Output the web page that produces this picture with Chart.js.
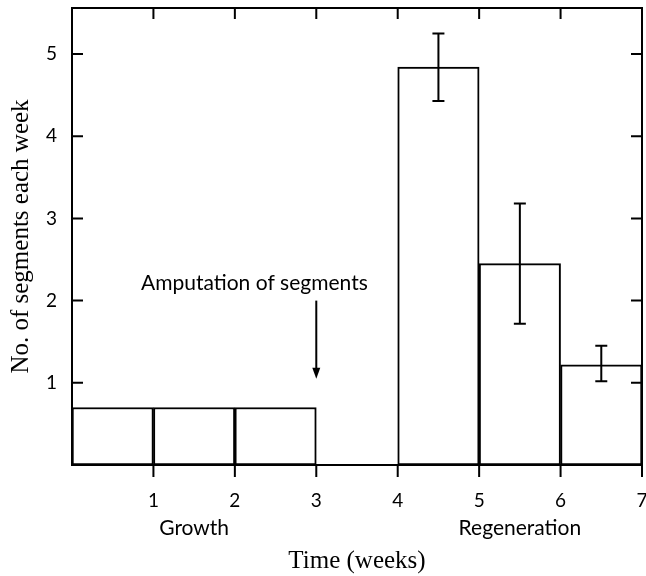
<!DOCTYPE html>
<html>
<head>
<meta charset="utf-8">
<script src="https://cdn.jsdelivr.net/npm/chart.js@4/dist/chart.umd.min.js"></script>
<style>
  html,body{margin:0;padding:0;background:#fff;}
  #wrap{width:646px;height:576px;}
</style>
</head>
<body>
<div id="wrap"><canvas id="c" width="646" height="576"></canvas></div>
<script>
// week midpoints (bars span one week each)
const weekMid  = [0.5, 1.5, 2.5, 4.5, 5.5, 6.5];
const segments = [0.70, 0.70, 0.70, 4.84, 2.45, 1.22];
const errLow   = [null, null, null, 4.43, 1.72, 1.02];
const errHigh  = [null, null, null, 5.25, 3.18, 1.45];
const xTicks = [1, 2, 3, 4, 5, 6, 7];
const yTicks = [1, 2, 3, 4, 5];
const phaseLabels = ['Growth', 'Regeneration'];
const phaseMid = [1.5, 5.5];
const amputationWeek = 3;
const amputationText = 'Amputation of segments';

const sans = 'Lato, "Open Sans", sans-serif';
const serif = '"Liberation Serif", "DejaVu Serif", serif';
const ink = '#000';

const frame = {
  id: 'frame',
  afterDraw(chart){
    const {ctx, chartArea:a, scales:{x, y}} = chart;
    ctx.save();
    ctx.strokeStyle = ink; ctx.lineWidth = 2;
    ctx.strokeRect(a.left, a.top, a.right - a.left, a.bottom - a.top);
    ctx.beginPath();
    yTicks.forEach(v => {
      const py = y.getPixelForValue(v);
      ctx.moveTo(a.left, py); ctx.lineTo(a.left + 11, py);
      ctx.moveTo(a.right, py); ctx.lineTo(a.right - 11, py);
    });
    xTicks.forEach(v => {
      const px = x.getPixelForValue(v);
      ctx.moveTo(px, a.top); ctx.lineTo(px, a.top + 11);
      ctx.moveTo(px, a.bottom); ctx.lineTo(px, a.bottom + 12);
    });
    ctx.stroke();
    // error bars
    ctx.beginPath();
    weekMid.forEach((m, i) => {
      if(errLow[i] == null) return;
      const px = x.getPixelForValue(m);
      const lo = y.getPixelForValue(errLow[i]), hi = y.getPixelForValue(errHigh[i]);
      ctx.moveTo(px, lo); ctx.lineTo(px, hi);
      ctx.moveTo(px - 6, lo); ctx.lineTo(px + 6, lo);
      ctx.moveTo(px - 6, hi); ctx.lineTo(px + 6, hi);
    });
    ctx.stroke();
    // amputation arrow
    const ax = x.getPixelForValue(amputationWeek);
    const aTop = y.getPixelForValue(2.0), aTip = y.getPixelForValue(1.05);
    ctx.beginPath(); ctx.moveTo(ax, aTop); ctx.lineTo(ax, aTip - 6); ctx.stroke();
    ctx.fillStyle = ink;
    ctx.beginPath(); ctx.moveTo(ax, aTip); ctx.lineTo(ax - 4, aTip - 11); ctx.lineTo(ax + 4, aTip - 11); ctx.closePath(); ctx.fill();
    ctx.font = '21px ' + sans;
    ctx.textAlign = 'center'; ctx.textBaseline = 'alphabetic';
    ctx.fillText(amputationText, x.getPixelForValue(2.24), y.getPixelForValue(2.13));
    // phase labels under the axis
    ctx.textBaseline = 'middle';
    phaseLabels.forEach((t, i) => ctx.fillText(t, x.getPixelForValue(phaseMid[i]), a.bottom + 63));
    ctx.restore();
  }
};

new Chart(document.getElementById('c'), {
  type: 'bar',
  data: {
    datasets: [{
      data: weekMid.map((m, i) => ({x: m, y: segments[i]})),
      backgroundColor: '#fff',
      borderColor: ink,
      borderWidth: 2,
      borderSkipped: false,
      barPercentage: 1,
      categoryPercentage: 1
    }]
  },
  options: {
    responsive: false,
    animation: false,
    layout: {padding: {top: 8, right: 4, bottom: 0, left: 0}},
    plugins: {legend: {display: false}, tooltip: {enabled: false}},
    scales: {
      x: {
        type: 'linear', min: 0, max: 7, offset: false,
        grid: {display: false, offset: false, drawTicks: false},
        border: {display: false},
        afterFit: s => { s.height = 111; s.paddingLeft = 0; s.paddingRight = 0; },
        ticks: {
          stepSize: 1, padding: 24, color: ink, maxRotation: 0,
          font: {family: sans, size: 19},
          callback: v => xTicks.includes(v) ? String(v) : ''
        },
        title: {display: true, text: 'Time (weeks)', color: ink, font: {family: serif, size: 25}, padding: {top: 0, bottom: 0}}
      },
      y: {
        min: 0, max: 5.56,
        grid: {display: false, drawTicks: false},
        border: {display: false},
        afterFit: s => { s.width = 72; s.paddingTop = 0; s.paddingBottom = 0; },
        ticks: {
          stepSize: 1, includeBounds: false, padding: 15, color: ink,
          font: {family: sans, size: 19},
          callback: v => yTicks.includes(v) ? String(v) : ''
        },
        title: {display: true, text: 'No. of segments each week', color: ink, font: {family: serif, size: 25}, padding: {top: 6, bottom: 0}}
      }
    }
  },
  plugins: [frame]
});
</script>
</body>
</html>
